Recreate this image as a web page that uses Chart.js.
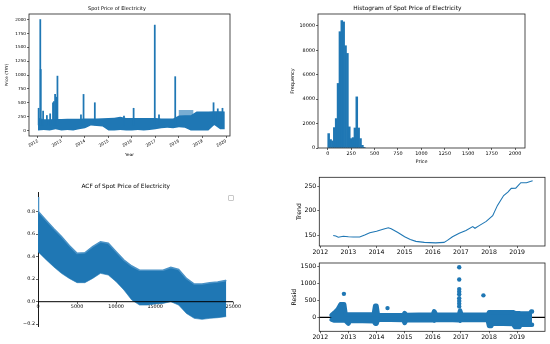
<!DOCTYPE html>
<html><head><meta charset="utf-8">
<script src="https://cdn.jsdelivr.net/npm/chart.js@4.4.1/dist/chart.umd.min.js"></script>
<style>
html,body{margin:0;padding:0;background:#fff;}
#wrap{position:relative;width:550px;height:344px;overflow:hidden;background:#fff;}
canvas{position:absolute;left:0;top:0;}
#legendBox{position:absolute;left:228px;top:195px;width:4px;height:4px;border:0.7px solid #c8c8c8;border-radius:1px;background:#fff;}
</style></head><body>
<div id="wrap">
<canvas id="c1" width="550" height="344"></canvas>
<canvas id="c2" width="550" height="344"></canvas>
<canvas id="c3" width="550" height="344"></canvas>
<canvas id="c4" width="550" height="344"></canvas>
<canvas id="c5" width="550" height="344"></canvas>
<div id="legendBox"></div>
</div>
<script>
// ---------- DATA ----------
// Spot price series (envelope of hourly prices, decimal year)
const priceYears = [2012.0,2012.25,2012.5,2012.75,2013.0,2013.25,2013.5,2013.75,2014.0,2014.25,2014.5,2014.75,2015.0,2015.25,2015.5,2015.75,2016.0,2016.25,2016.5,2016.75,2017.0,2017.25,2017.5,2017.75,2018.0,2018.25,2018.5,2018.75,2019.0,2019.25,2019.5,2019.75,2019.95];
const priceHigh  = [230,200,200,205,205,210,210,210,215,215,215,220,225,230,245,225,225,225,225,225,225,215,215,215,270,275,275,340,340,340,345,345,340];
const priceLow   = [0,10,0,20,0,10,0,20,40,90,80,70,0,0,10,0,0,10,0,10,20,40,50,40,60,50,0,0,0,0,100,20,20];
const spikeYears  = [2012.03,2012.10,2012.12,2012.22,2012.38,2012.52,2012.64,2012.68,2012.73,2012.78,2012.83,2013.83,2013.94,2014.42,2015.66,2016.07,2016.97,2017.15,2017.84,2019.47,2019.65,2019.85];
const spikeValues = [400,2000,1100,350,270,300,500,520,650,600,980,280,650,500,260,400,1900,280,970,500,390,400];
const lightYears  = [2017.98,2018.62];
const lightValues = [370,370];
const priceYearTicks = [2012,2013,2014,2015,2016,2017,2018,2019,2020];
const priceTicks = [0,250,500,750,1000,1250,1500,1750,2000];

// Histogram (bin centres, width 20)
const histCenters = [10,30,50,70,90,110,130,150,170,190,210,230,250,270,290,310,330,350,370,390];
const histCounts  = [1180,690,580,1670,2410,5290,9530,10440,10330,8380,7750,1730,770,850,1640,4190,1640,770,220,30];
const histXTicks = [0,250,500,750,1000,1250,1500,1750,2000];
const histYTicks = [0,2000,4000,6000,8000,10000];

// ACF envelope
const acfLags  = [0,60,1000,2000,3000,4000,5000,6000,7000,8000,9000,10000,11000,12000,13000,14000,15000,16000,17000,18000,19000,20000,21000,22000,23000,24000,24100];
const acfUpper = [0.93,0.80,0.726,0.65,0.58,0.50,0.43,0.435,0.49,0.533,0.52,0.444,0.37,0.317,0.28,0.28,0.28,0.28,0.305,0.287,0.207,0.157,0.157,0.169,0.175,0.187,0.19];
const acfLower = [0.444,0.44,0.376,0.311,0.252,0.207,0.169,0.169,0.207,0.252,0.237,0.178,0.104,0.015,-0.03,-0.03,-0.02,-0.015,0.0,-0.03,-0.104,-0.148,-0.157,-0.148,-0.142,-0.133,-0.13];
const acfXTicks = [0,5000,10000,15000,20000,25000];
const acfYTicks = [-0.2,0.0,0.2,0.4,0.6,0.8];

// Trend
const trendYears  = [2012.46,2012.55,2012.64,2012.82,2013.0,2013.17,2013.4,2013.58,2013.76,2014.0,2014.23,2014.42,2014.52,2014.76,2015.0,2015.2,2015.4,2015.7,2016.1,2016.4,2016.52,2016.7,2016.94,2017.18,2017.42,2017.5,2017.65,2017.9,2018.13,2018.3,2018.52,2018.67,2018.79,2018.95,2019.13,2019.33,2019.55];
const trendValues = [150,149,146.5,148.5,147.5,147,147,151,155.5,158.5,162.5,165.5,163.5,156,147.5,142,138,136,135,136,140,147.5,154.5,160,168,164.5,170,178.5,190,211,231,238,245.5,246,257,257,261];
const trendTicks = [150,200,250];
const decompYearTicks = [2012,2013,2014,2015,2016,2017,2018,2019];

// Residual envelope + outliers
const residYears = [2012.40,2012.50,2012.62,2012.72,2012.85,2012.90,2013.00,2013.05,2013.50,2013.90,2013.95,2014.00,2014.05,2014.50,2014.95,2015.00,2015.06,2015.50,2016.00,2016.05,2016.12,2016.50,2016.93,2016.97,2017.02,2017.50,2017.95,2018.00,2018.08,2018.12,2018.50,2018.85,2018.92,2019.08,2019.12,2019.45,2019.50,2019.53];
const residHigh  = [60,135,235,385,385,85,85,85,85,85,340,340,60,60,60,125,70,75,80,180,80,75,75,200,80,75,75,150,150,150,150,150,130,120,110,110,170,170];
const residLow   = [-70,-95,-95,-95,-95,-105,-190,-105,-110,-120,-190,-190,-75,-75,-80,-170,-90,-80,-85,-100,-80,-75,-85,-100,-80,-75,-80,-255,-255,-190,-190,-200,-285,-285,-220,-220,-220,-220];
const outlierYears  = [2012.84,2014.39,2016.94,2016.94,2016.94,2016.94,2016.94,2016.94,2016.94,2016.94,2016.94,2017.80];
const outlierValues = [690,270,1470,1110,830,750,680,560,480,400,320,645];
const residTicks = [0,500,1000,1500];

// ---------- STYLE / HELPERS ----------
const BLUE = '#1f77b4';
Chart.defaults.font.family = "'DejaVu Sans', sans-serif";
Chart.defaults.color = '#000';
Chart.defaults.animation = false;
Chart.defaults.responsive = false;
Chart.defaults.events = [];
Chart.defaults.plugins.legend.display = false;
Chart.defaults.plugins.tooltip.enabled = false;
Chart.defaults.elements.point.radius = 0;

const ticksAt = vals => s => { s.ticks = vals.map(v => ({value: v})); };
const fixW = w => s => { s.width = w; };
const fixH = h => s => { s.height = h; };
const xy = (xs, ys) => xs.map((x, i) => ({x, y: ys[i]}));
const tickGrid = (tl) => ({display: true, drawOnChartArea: false, tickLength: tl, tickColor: '#000', tickWidth: 0.6});

const framePlugin = {
  id: 'frame',
  beforeDatasetsDraw(chart, args, o) {
    if (o.zeroBelow) {
      const y = chart.scales.y.getPixelForValue(0), a = chart.chartArea, c = chart.ctx;
      c.save(); c.strokeStyle = '#000'; c.lineWidth = 1.2;
      c.beginPath(); c.moveTo(a.left, y); c.lineTo(a.right, y); c.stroke(); c.restore();
    }
  },
  afterDatasetsDraw(chart, args, o) {
    const a = chart.chartArea, c = chart.ctx;
    c.save();
    if (o.zeroTop) {
      const y = chart.scales.y.getPixelForValue(0);
      c.strokeStyle = '#000'; c.lineWidth = 1;
      c.beginPath(); c.moveTo(a.left, y); c.lineTo(a.right, y); c.stroke();
    }
    if (o.box) {
      c.strokeStyle = '#222'; c.lineWidth = 0.8;
      c.strokeRect(a.left, a.top, a.right - a.left, a.bottom - a.top);
    }
    c.restore();
  }
};

// ---------- CHART 1: Spot price ----------
new Chart(document.getElementById('c1'), {
  type: 'line',
  data: {datasets: [
    {type: 'bar', data: spikeYears.map((x, i) => ({x, y: [100, spikeValues[i]]})), backgroundColor: BLUE, barThickness: 1.1},
    {data: xy(priceYears, priceHigh), borderColor: 'transparent', borderWidth: 0, fill: '+1', backgroundColor: BLUE},
    {data: xy(priceYears, priceLow), borderColor: 'transparent', borderWidth: 0, fill: false},
    {data: xy(lightYears, lightValues), borderColor: 'transparent', borderWidth: 0, fill: {value: 260}, backgroundColor: 'rgba(31,119,180,0.6)'}
  ]},
  options: {
    layout: {padding: {left: 4, right: 320, top: 6, bottom: 187}},
    plugins: {
      title: {display: true, text: 'Spot Price of Electricity', font: {size: 5, weight: 'normal'}, padding: {top: 0, bottom: 2}, color: '#000'},
      frame: {box: true}
    },
    scales: {
      x: {type: 'linear', min: 2011.62, max: 2020.17, offset: false, afterBuildTicks: ticksAt(priceYearTicks), afterFit: fixH(21),
          ticks: {font: {size: 4.2}, padding: 0.5, minRotation: 30, maxRotation: 30, autoSkip: false, callback: v => String(v)},
          grid: Object.assign(tickGrid(2), {offset: false}), border: {display: false},
          title: {display: true, text: 'Year', font: {size: 4.2}, padding: 0}},
      y: {type: 'linear', min: -100, max: 2100, afterBuildTicks: ticksAt(priceTicks), afterFit: fixW(25),
          ticks: {font: {size: 4.2}, padding: 1, callback: v => String(v)},
          grid: tickGrid(2), border: {display: false},
          title: {display: true, text: 'Price (TRY)', font: {size: 4.2}, padding: 0}}
    }
  },
  plugins: [framePlugin]
});

// ---------- CHART 2: Histogram ----------
new Chart(document.getElementById('c2'), {
  type: 'bar',
  data: {datasets: [{data: xy(histCenters, histCounts), backgroundColor: BLUE, barPercentage: 1, categoryPercentage: 1, borderWidth: 0}]},
  options: {
    layout: {padding: {left: 289.76, right: 25, top: 4.76, bottom: 179.36}},
    plugins: {
      title: {display: true, text: 'Histogram of Spot Price of Electricity', font: {size: 5.9, weight: 'normal'}, padding: {top: 0, bottom: 2.16}, color: '#000'},
      frame: {box: true}
    },
    scales: {
      x: {type: 'linear', min: -104, max: 2106, offset: false, afterBuildTicks: ticksAt(histXTicks), afterFit: fixH(16.64),
          ticks: {font: {size: 4.9}, padding: 1, autoSkip: false, maxRotation: 0, callback: v => String(v)},
          grid: Object.assign(tickGrid(2), {offset: false}), border: {display: false},
          title: {display: true, text: 'Price', font: {size: 4.9}, padding: 0}},
      y: {type: 'linear', min: 0, max: 10980, afterBuildTicks: ticksAt(histYTicks), afterFit: fixW(28.24),
          ticks: {font: {size: 4.9}, padding: 1, callback: v => String(v)},
          grid: tickGrid(2), border: {display: false},
          title: {display: true, text: 'Frequency', font: {size: 4.9}, padding: 0}}
    }
  },
  plugins: [framePlugin]
});

// ---------- CHART 3: ACF ----------
new Chart(document.getElementById('c3'), {
  type: 'line',
  data: {datasets: [
    {data: xy(acfLags, acfUpper), borderColor: '#4a92c6', borderWidth: 1.6, fill: '+1', backgroundColor: BLUE},
    {data: xy(acfLags, acfLower), borderColor: BLUE, borderWidth: 0.6, fill: false}
  ]},
  options: {
    layout: {padding: {left: 18, right: 316.7, top: 183.19, bottom: 18}},
    plugins: {
      title: {display: true, text: 'ACF of Spot Price of Electricity', font: {size: 5.85, weight: 'normal'}, padding: {top: 0, bottom: 1.79}, color: '#000'},
      frame: {zeroTop: true}
    },
    scales: {
      x: {type: 'linear', min: 0, max: 25000, position: {y: 0}, afterBuildTicks: ticksAt(acfXTicks),
          ticks: {font: {size: 4.9}, padding: 0.5, autoSkip: false, maxRotation: 0, callback: v => String(v)},
          grid: tickGrid(2), border: {display: false}},
      y: {type: 'linear', min: -0.216, max: 0.975, position: 'left', afterBuildTicks: ticksAt(acfYTicks), afterFit: fixW(20),
          ticks: {font: {size: 4.9}, padding: 1, callback: v => v.toFixed(1).replace('-', '\u2212')},
          grid: tickGrid(2), border: {display: true, color: '#000', width: 0.9}}
    }
  },
  plugins: [framePlugin]
});

// ---------- CHART 4: Trend ----------
new Chart(document.getElementById('c4'), {
  type: 'line',
  data: {datasets: [{data: xy(trendYears, trendValues), borderColor: BLUE, borderWidth: 1.1, fill: false}]},
  options: {
    layout: {padding: {left: 295.28, right: 5, top: 177.3, bottom: 86}},
    plugins: {frame: {box: true}},
    scales: {
      x: {type: 'linear', min: 2011.965, max: 2019.99, afterBuildTicks: ticksAt(decompYearTicks), afterFit: fixH(12),
          ticks: {font: {size: 6.2}, padding: 0.5, autoSkip: false, maxRotation: 0, callback: v => String(v)},
          grid: tickGrid(2), border: {display: false}},
      y: {type: 'linear', min: 128.6, max: 268, afterBuildTicks: ticksAt(trendTicks), afterFit: fixW(24.02),
          ticks: {font: {size: 6.2}, padding: 1, callback: v => String(v)},
          grid: tickGrid(2), border: {display: false},
          title: {display: true, text: 'Trend', font: {size: 6.2}, padding: 0}}
    }
  },
  plugins: [framePlugin]
});

// ---------- CHART 5: Resid ----------
new Chart(document.getElementById('c5'), {
  type: 'line',
  data: {datasets: [
    {data: xy(outlierYears, outlierValues), showLine: false, pointRadius: 2.2, pointBackgroundColor: BLUE, pointBorderWidth: 0, pointBorderColor: BLUE},
    {data: xy(residYears, residHigh), borderColor: BLUE, borderWidth: 4.4, borderJoinStyle: 'round', borderCapStyle: 'round', fill: '+1', backgroundColor: BLUE},
    {data: xy(residYears, residLow), borderColor: BLUE, borderWidth: 4.4, borderJoinStyle: 'round', borderCapStyle: 'round', fill: false}
  ]},
  options: {
    layout: {padding: {left: 290.98, right: 5, top: 263, bottom: 0.7}},
    plugins: {frame: {box: true, zeroBelow: true}},
    scales: {
      x: {type: 'linear', min: 2011.965, max: 2019.99, afterBuildTicks: ticksAt(decompYearTicks), afterFit: fixH(12),
          ticks: {font: {size: 6.2}, padding: 0.5, autoSkip: false, maxRotation: 0, callback: v => String(v)},
          grid: tickGrid(2), border: {display: false}},
      y: {type: 'linear', min: -412, max: 1597, afterBuildTicks: ticksAt(residTicks), afterFit: fixW(28.32),
          ticks: {font: {size: 6.2}, padding: 1, callback: v => String(v)},
          grid: tickGrid(2), border: {display: false},
          title: {display: true, text: 'Resid', font: {size: 6.2}, padding: 0}}
    }
  },
  plugins: [framePlugin]
});
</script>
</body></html>
